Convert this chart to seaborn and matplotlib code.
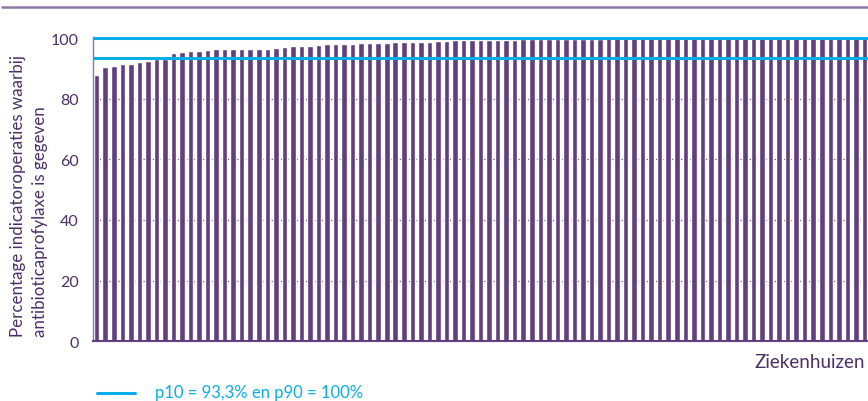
import pandas as pd
import matplotlib.pyplot as plt
import seaborn as sns
from matplotlib.lines import Line2D

# --- Data (sorted ascending) ---
percentages = (
    [87.8, 90.4, 90.8, 91.4, 91.4, 92.1, 92.4, 93.0, 93.0, 95.0,
     95.4, 95.7, 95.7, 96.0]
    + [96.4] * 7
    + [96.7, 97.0]
    + [97.4] * 3
    + [97.7]
    + [98.0] * 4
    + [98.3] * 4
    + [98.7] * 5
    + [99.0] * 2
    + [99.3] * 8
    + [99.7] * 10
    + [100.0] * 31
)
hospitals = [str(i + 1) for i in range(len(percentages))]
p10 = 93.3
p90 = 100.0
y_ticks = [0, 20, 40, 60, 80, 100]
legend_label = 'p10 = 93,3% en p90 = 100%'
y_label = 'Percentage indicatoroperaties waarbij\nantibioticaprofylaxe is gegeven'
x_label = 'Ziekenhuizen'

# --- Colours ---
BAR = '#623f80'
TEXT = '#4b2f6a'
CYAN = '#08aeea'
SPINE = '#8c78a6'

sns.set_theme(style='white')
plt.rcParams['font.family'] = ['Lato', 'DejaVu Sans']

df = pd.DataFrame({'Ziekenhuis': hospitals, 'Percentage': percentages})

fig = plt.figure(figsize=(8.68, 4.02), dpi=100)
ax = fig.add_axes([0.107, 0.149, 0.893, 0.756])

sns.barplot(data=df, x='Ziekenhuis', y='Percentage', color=BAR,
            saturation=1, width=0.65, ax=ax, zorder=2)

# percentile lines
for val in (p10, p90):
    ax.axhline(val, color=CYAN, lw=2.2, zorder=3)

# dotted grid
for t in y_ticks[1:-1]:
    ax.axhline(t, color=TEXT, lw=0.9, ls=(0, (1, 1.5)), zorder=1)

ax.set_xlim(-0.45, len(percentages) - 1 + 0.42)
ax.set_ylim(0, 100.3)
ax.set_yticks(y_ticks)
ax.set_xticks([])
ax.tick_params(axis='y', length=0, labelsize=11.5, labelcolor=TEXT, pad=10)
ax.set_ylabel('')
ax.set_xlabel('')

for side in ('top', 'right'):
    ax.spines[side].set_visible(False)
ax.spines['left'].set_color(SPINE)
ax.spines['left'].set_linewidth(1.0)
ax.spines['bottom'].set_color(BAR)
ax.spines['bottom'].set_linewidth(1.5)

fig.text(0.0335, 0.512, y_label, rotation=90, ha='center', va='center',
         fontsize=12.2, color=TEXT, linespacing=1.5, multialignment='left')
fig.text(0.997, 0.098, x_label, ha='right', va='center', fontsize=13.5, color=TEXT)

# legend
fig.add_artist(Line2D([0.112, 0.156], [0.02, 0.02], color=CYAN, lw=2.2))
fig.text(0.178, 0.022, legend_label, ha='left', va='center', fontsize=12, color=CYAN)

# top rule
fig.add_artist(Line2D([0.002, 1.0], [0.979, 0.979], color=SPINE, lw=1.8))

fig.savefig('out.png', dpi=100)
